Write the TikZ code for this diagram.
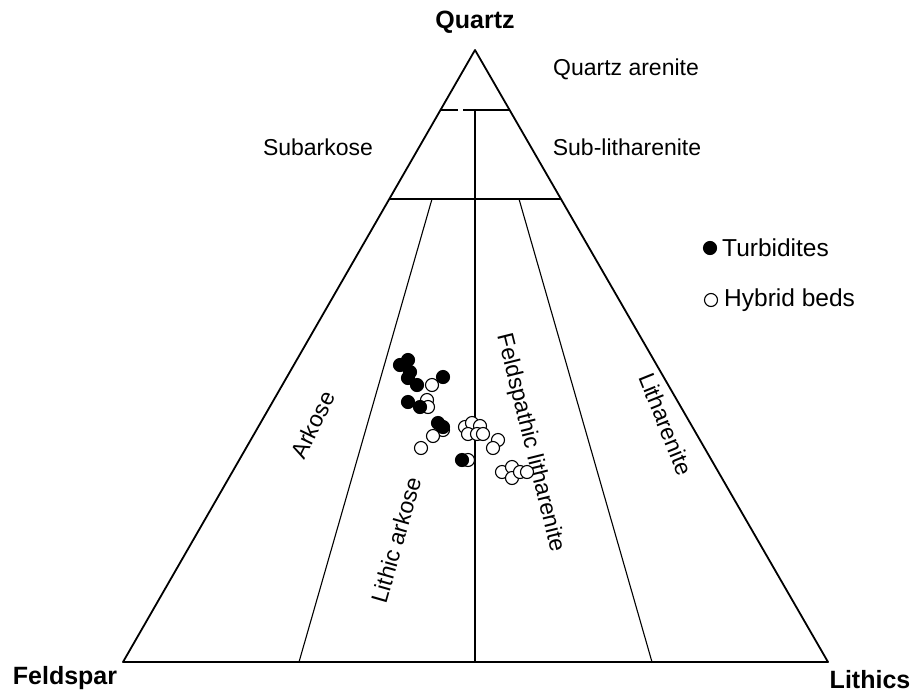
\documentclass[tikz,border=0pt]{standalone}
\usepackage{fontspec}
\setmainfont{Liberation Sans}
\begin{document}
\begin{tikzpicture}[x=1pt,y=-1pt,
  edge/.style={line width=1.8pt,line join=round},
  inner/.style={line width=1.1pt},
  lbl/.style={font=\fontsize{23}{27}\selectfont,inner sep=0pt},
  leglbl/.style={font=\fontsize{24.5}{29}\selectfont,inner sep=0pt,anchor=west},
  apexlbl/.style={font=\fontsize{25}{30}\selectfont\bfseries,inner sep=0pt},
  turb/.style={circle,draw=black,fill=black,line width=1.1pt,minimum size=13pt,inner sep=0pt},
  hyb/.style={circle,draw=black,fill=white,line width=1.1pt,minimum size=13pt,inner sep=0pt}]
\useasboundingbox (0,0) rectangle (913,694);
% corners
\coordinate (Q) at (475,50);
\coordinate (F) at (123,662);
\coordinate (L) at (828,662);
% Q90 line
\coordinate (q90l) at (440.5,110);
\coordinate (q90g1) at (458,110);
\coordinate (q90g2) at (463,110);
\coordinate (q90r) at (509.5,110);
\coordinate (q90c) at (475,110);
% Q75 line
\coordinate (q75l) at (389,199);
\coordinate (q75r) at (561,199);
\coordinate (q75a) at (432,199);
\coordinate (q75b) at (519,199);
% base points
\coordinate (b1) at (299,662);
\coordinate (b2) at (475,662);
\coordinate (b3) at (652,662);
\draw[edge] (Q) -- (F) -- (L) -- cycle;
\draw[inner] (q90l) -- (q90g1);
\draw[inner] (q90g2) -- (q90r);
\draw[inner] (q75l) -- (q75r);
\draw[inner] (q90c) -- (b2);
\draw[inner] (q75a) -- (b1);
\draw[inner] (q75b) -- (b3);
% labels
\node[apexlbl] (tq) at (475,22) {Quartz};
\node[apexlbl] (tf) at (65,678) {Feldspar};
\node[apexlbl] (tl) at (870,680) {Lithics};
\node[lbl] (qa) at (626,69) {Quartz arenite};
\node[lbl] (sa) at (318,147) {Subarkose};
\node[lbl] (sl) at (627,147) {Sub-litharenite};
\node[lbl,rotate=64] (ar) at (313,425) {Arkose};
\node[lbl,rotate=74] (la) at (396,540) {Lithic arkose};
\node[lbl,rotate=-76] (fl) at (530,443) {Feldspathic litharenite};
\node[lbl,rotate=-68] (li) at (666,424) {Litharenite};
% legend
\node[turb] (lt) at (710,248) {};
\node[leglbl] (lt2) at (722,248) {Turbidites};
\node[hyb] (lh) at (711,300) {};
\node[leglbl] (lh2) at (724,300) {Hybrid beds};
% hybrid beds (behind)
\foreach \p [count=\i] in {(432,385),(427,400),(428,407),(443,430),(433,436),(421,448),
  (465,427),(472,423),(480,426),(468,434),(477,434),(483,434),
  (498,440),(493,448),(468,460),
  (502,472),(512,467),(512,478),(520,472),(527,472)}
  \node[hyb] (h\i) at \p {};
% turbidites
\foreach \p [count=\i] in {(400,365),(408,360),(410,372),(408,378),(417,385),(443,377),
  (408,402),(420,407),(438,423),(443,427),(462,460)}
  \node[turb] (t\i) at \p {};
\end{tikzpicture}
\end{document}
